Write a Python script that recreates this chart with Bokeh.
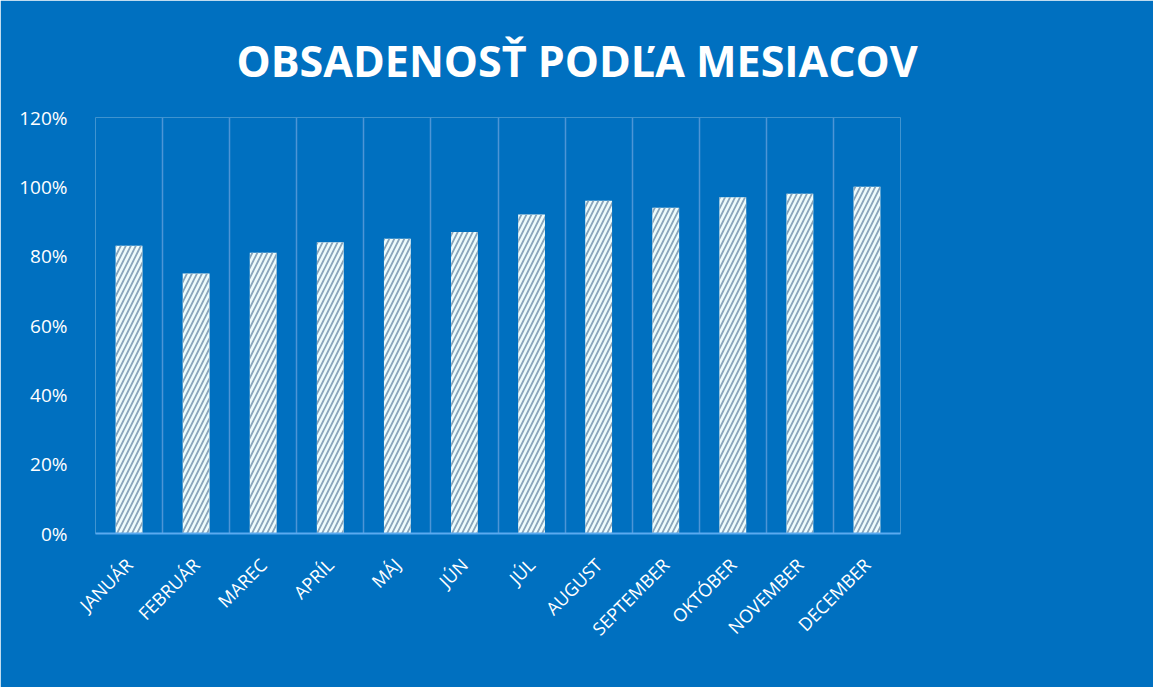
from math import pi
from bokeh.plotting import figure
from bokeh.models import ColumnDataSource, FixedTicker, NumeralTickFormatter, Range1d
from bokeh.embed import file_html
from bokeh.resources import INLINE

months = ["JANUÁR", "FEBRUÁR", "MAREC", "APRÍL", "MÁJ", "JÚN", "JÚL",
          "AUGUST", "SEPTEMBER", "OKTÓBER", "NOVEMBER", "DECEMBER"]
occupancy = [0.83, 0.75, 0.81, 0.84, 0.85, 0.87, 0.92, 0.96, 0.94, 0.97, 0.98, 1.00]
y_ticks = [0, 0.2, 0.4, 0.6, 0.8, 1.0, 1.2]

BG = "#0070C0"
FONT = "Open Sans"

xs = [i + 0.5 for i in range(len(months))]
src = ColumnDataSource(dict(x=xs, top=occupancy, name=months))

p = figure(width=1153, height=687, output_backend="svg", toolbar_location=None,
           x_range=Range1d(0, len(months)), y_range=Range1d(0, 1.2),
           background_fill_color=BG, border_fill_color=BG, outline_line_color=None,
           min_border_left=95, min_border_right=253, min_border_top=117, min_border_bottom=154,
           title="OBSADENOSŤ PODĽA MESIACOV")

p.vbar(x="x", top="top", width=0.4, source=src, fill_color="#eefcfc", line_color=None,
       hatch_pattern="/", hatch_color="#8aa5bb", hatch_scale=10, hatch_weight=1.8)

p.title.align = "left"
p.title.offset = 141
p.title.text_color = "white"
p.title.text_font = FONT
p.title.text_font_style = "bold"
p.title.text_font_size = "43px"
p.title.standoff = 55

# x axis
p.xaxis.ticker = FixedTicker(ticks=xs)
p.xaxis.major_label_overrides = {x: m for x, m in zip(xs, months)}
p.xaxis.major_label_orientation = pi / 4
p.xaxis.major_label_text_color = "white"
p.xaxis.major_label_text_font = FONT
p.xaxis.major_label_text_font_size = "18px"
p.xaxis.major_label_standoff = 22
p.xaxis.major_tick_line_color = None
p.xaxis.minor_tick_line_color = None
p.xaxis.axis_line_color = "#5aaaf0"
p.xaxis.axis_line_width = 2

# y axis
p.yaxis.ticker = FixedTicker(ticks=y_ticks)
p.yaxis.formatter = NumeralTickFormatter(format="0%")
p.yaxis.major_label_text_color = "white"
p.yaxis.major_label_text_font = FONT
p.yaxis.major_label_text_font_size = "19px"
p.yaxis.major_label_standoff = 22
p.yaxis.axis_line_color = None
p.yaxis.major_tick_line_color = None
p.yaxis.minor_tick_line_color = None

# grids: vertical lines at category boundaries only
p.xgrid.ticker = FixedTicker(ticks=list(range(len(months) + 1)))
p.xgrid.grid_line_color = "#4d95d6"
p.xgrid.grid_line_width = 1.5
p.ygrid.grid_line_color = None

open("out.html", "w").write(file_html(p, INLINE))
